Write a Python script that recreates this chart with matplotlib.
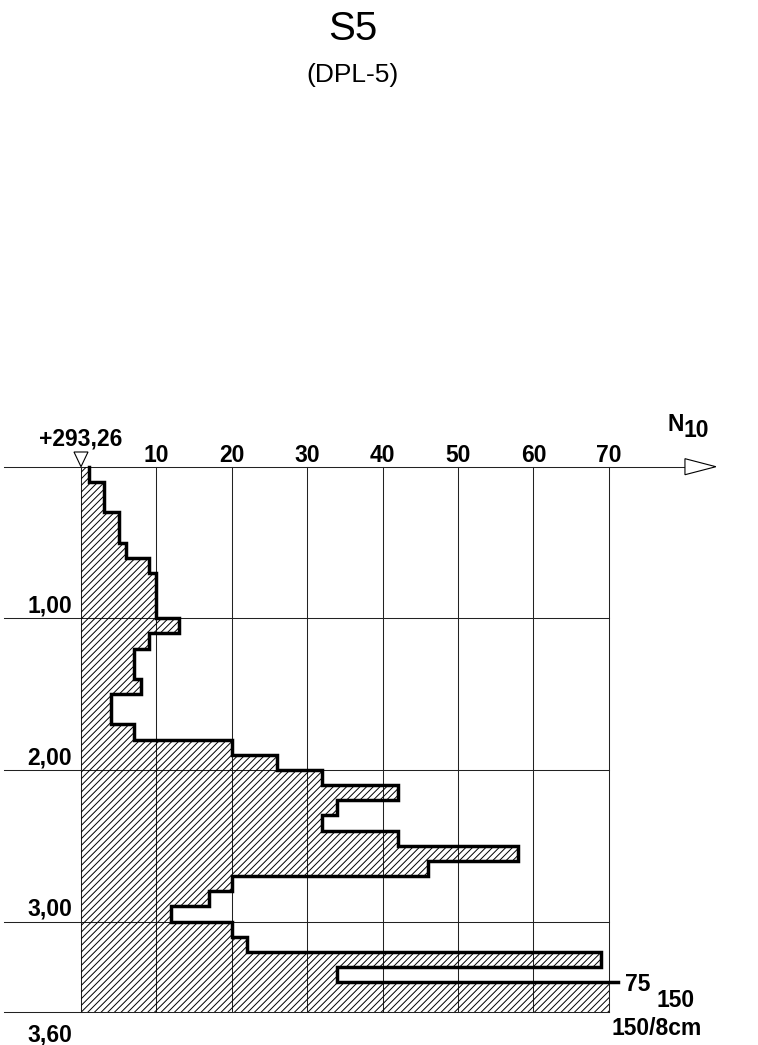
import numpy as np
import matplotlib.pyplot as plt

plt.rcParams['font.family'] = ['Liberation Sans', 'DejaVu Sans']
plt.rcParams['hatch.linewidth'] = 0.7

# DPL-5 blow counts per 10 cm of penetration
depth_step = 0.1
n10 = [1, 3, 3, 5, 5, 6, 9, 10, 10, 10,
       13, 9, 7, 7, 8, 4, 4, 7, 20, 26,
       32, 42, 34, 32, 42, 58, 46, 20, 17, 12,
       20, 22, 69, 34, 75, 150]
x_ticks = [10, 20, 30, 40, 50, 60, 70]
depth_lines = [1.0, 2.0, 3.0, 3.6]
depth_labels = ['1,00', '2,00', '3,00']
x_max = 70
elevation = '+293,26'
refusal = '150/8cm'

n10 = np.array(n10)
edges = np.arange(len(n10) + 1) * depth_step
capped = np.minimum(n10, x_max)

fs = 16.5

fig = plt.figure(figsize=(7.58, 10.45), dpi=100)
ax = fig.add_axes([0, 0, 1, 1])
# 7.54 px per blow, 151.6 px per metre, origin at (81, 466.7) px
ax.set_xlim(-81 / 7.54, 677 / 7.54)
ax.set_ylim((1045 - 466.7) / 151.6, -466.7 / 151.6)
ax.axis('off')

# grid
for x in range(0, x_max + 1, 10):
    ax.plot([x, x], [0, depth_lines[-1]], color='#222222', lw=0.75, zorder=1)
for d in depth_lines:
    ax.plot([-10.2, x_max], [d, d], color='#222222', lw=0.75, zorder=1)
ax.plot([-10.2, 80.1], [0, 0], color='#222222', lw=0.75, zorder=1)
ax.fill([80.1, 84.2, 80.1], [-0.053, 0, 0.053], facecolor='white',
        edgecolor='black', lw=0.8, zorder=3)

# hatched profile
ax.fill_betweenx(edges, 0, np.append(capped, capped[-1]), step='post',
                 facecolor='none', edgecolor='black', hatch='/////', lw=0,
                 zorder=2)

# step outline down to the 75 blow interval
k = len(n10) - 2
xs = np.repeat(n10[:k], 2)
ys = np.column_stack([edges[:k], edges[1:k + 1]]).ravel()
xs = np.append(xs, 71.2)
ys = np.append(ys, edges[k])
ax.plot(xs, ys, color='black', lw=2.5, solid_joinstyle='miter', zorder=4)

# elevation marker
ax.fill([-0.93, 0.93, 0], [-0.097, -0.097, 0], facecolor='white',
        edgecolor='black', lw=0.8, zorder=5)
ax.text(0, -0.137, elevation, ha='center', va='baseline', fontsize=fs,
        fontweight='bold')

for x in x_ticks:
    ax.text(x, -0.033, str(x), ha='center', va='baseline', fontsize=fs,
            fontweight='bold')
ax.text(77.85, -0.2375, 'N', ha='left', va='baseline', fontsize=fs,
        fontweight='bold')
ax.text(79.9, -0.198, '10', ha='left', va='baseline', fontsize=fs,
        fontweight='bold')

for d, lab in zip(depth_lines[:3], depth_labels):
    ax.text(-7.16, d - 0.037, lab, ha='left', va='baseline', fontsize=fs,
            fontweight='bold')
ax.text(-7.16, 3.79, '3,60', ha='left', va='baseline', fontsize=fs,
        fontweight='bold')

ax.text(72.1, 3.456, str(n10[-2]), ha='left', va='baseline', fontsize=fs,
        fontweight='bold')
ax.text(76.35, 3.562, str(n10[-1]), ha='left', va='baseline', fontsize=fs,
        fontweight='bold')
ax.text(70.4, 3.749, refusal, ha='left', va='baseline', fontsize=fs,
        fontweight='bold')

fig.text(353 / 758, 1 - 29 / 1045, 'S5', ha='center', va='center',
         fontsize=29)
fig.text(352 / 758, 1 - 75 / 1045, '(DPL-5)', ha='center', va='center',
         fontsize=19)

fig.savefig('out.png', dpi=100)
